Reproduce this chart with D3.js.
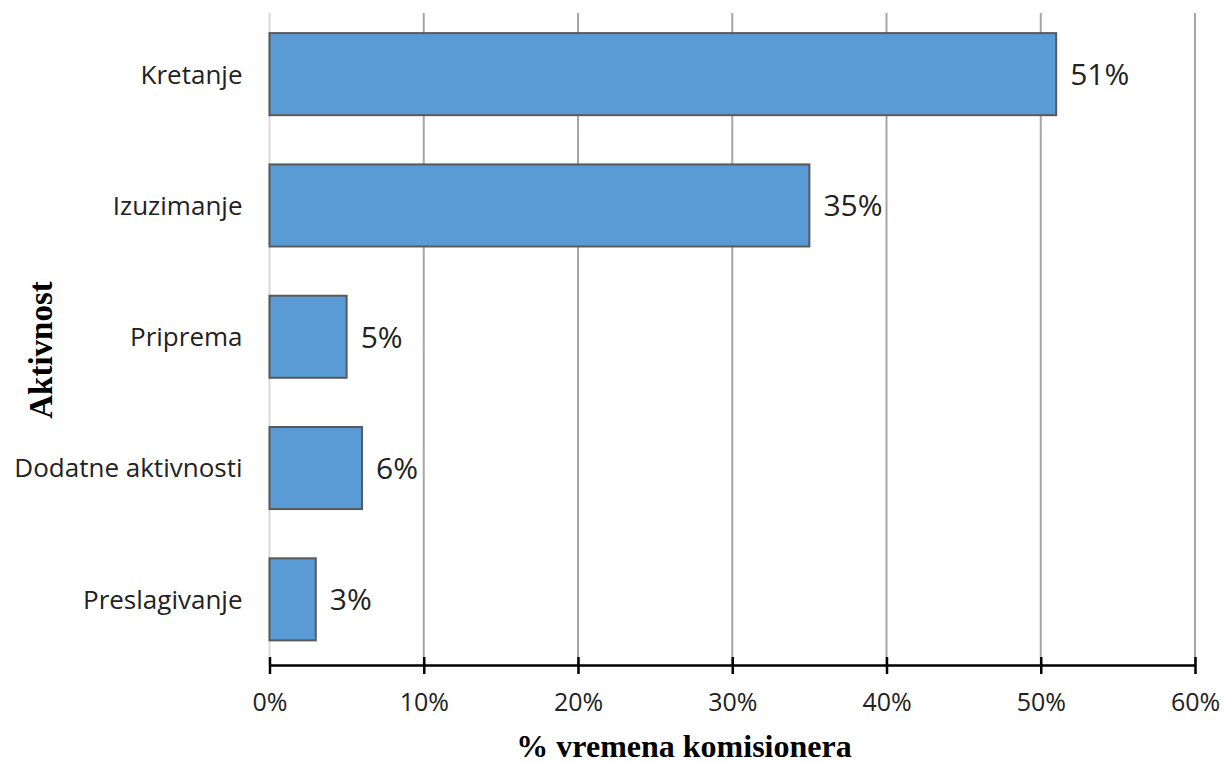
<!DOCTYPE html>
<html>
<head>
<meta charset="utf-8">
<script src="https://cdn.jsdelivr.net/npm/d3@7"></script>
<style>
  body { margin: 0; background: #fff; }
</style>
</head>
<body>
<div class="vis-container"></div>
<script>
// Data
const categories = ['Kretanje', 'Izuzimanje', 'Priprema', 'Dodatne aktivnosti', 'Preslagivanje'];
const values = [0.51, 0.35, 0.05, 0.06, 0.03];
const xTicks = [0, 0.1, 0.2, 0.3, 0.4, 0.5, 0.6];

const data = categories.map((c, i) => ({ name: c, value: values[i] }));

const margin = { top: 8.5, right: 29, bottom: 98, left: 269.5 };
const width = 1224 - margin.left - margin.right;
const height = 763 - margin.top - margin.bottom;
const font = 'Open Sans, Noto Sans, sans-serif';

const svg = d3
  .select('.vis-container')
  .append('svg')
  .attr('width', 1224)
  .attr('height', 763);

const group = svg
  .append('g')
  .attr('transform', `translate(${margin.left},${margin.top})`);

const xScale = d3.scaleLinear().domain([0, 0.6]).range([0, width]);
const yScale = d3
  .scaleBand()
  .domain(categories)
  .range([0, height])
  .paddingInner(0.375)
  .paddingOuter(0.1875);

const fmt = d3.format('.0%');

// gridlines
group
  .append('g')
  .selectAll('line')
  .data(xTicks)
  .join('line')
  .attr('x1', (d) => xScale(d))
  .attr('x2', (d) => xScale(d))
  .attr('y1', 4.5)
  .attr('y2', height)
  .attr('stroke', (d) => (d === 0 ? '#d9d9d9' : '#a6a6a6'))
  .attr('stroke-width', 2);

// bars
group
  .selectAll('rect.bar')
  .data(data)
  .join('rect')
  .attr('class', 'bar')
  .attr('x', xScale(0))
  .attr('y', (d) => yScale(d.name))
  .attr('width', (d) => xScale(d.value) - xScale(0))
  .attr('height', yScale.bandwidth())
  .attr('fill', '#5b9bd5')
  .attr('stroke', '#595959')
  .attr('stroke-width', 2);

// value labels
group
  .selectAll('text.val')
  .data(data)
  .join('text')
  .attr('class', 'val')
  .attr('x', (d) => xScale(d.value) + 14)
  .attr('y', (d) => yScale(d.name) + yScale.bandwidth() / 2)
  .attr('dy', '0.36em')
  .attr('font-family', font)
  .attr('font-size', 30)
  .attr('fill', '#222')
  .text((d) => fmt(d.value));

// x axis
const xAxis = d3
  .axisBottom(xScale)
  .tickValues(xTicks)
  .tickFormat(fmt)
  .tickSizeInner(9)
  .tickSizeOuter(0)
  .tickPadding(19);

group
  .append('g')
  .attr('class', 'x-axis')
  .attr('transform', `translate(0,${height})`)
  .call(xAxis)
  .call((g) => g.select('.domain').attr('stroke', '#000').attr('stroke-width', 2.5))
  .call((g) =>
    g.selectAll('.tick line').attr('y1', -8).attr('stroke', '#000').attr('stroke-width', 2.5)
  )
  .call((g) =>
    g
      .selectAll('.tick text')
      .attr('font-family', font)
      .attr('font-size', 25)
      .attr('fill', '#222')
  );

// y labels
group
  .append('g')
  .selectAll('text')
  .data(categories)
  .join('text')
  .attr('x', -27)
  .attr('y', (d) => yScale(d) + yScale.bandwidth() / 2)
  .attr('dy', '0.36em')
  .attr('text-anchor', 'end')
  .attr('font-family', font)
  .attr('font-size', 26)
  .attr('fill', '#222')
  .text((d) => d);

// axis titles
svg
  .append('text')
  .attr('x', 684)
  .attr('y', 757)
  .attr('text-anchor', 'middle')
  .attr('font-family', 'Liberation Serif, Times New Roman, serif')
  .attr('font-weight', 'bold')
  .attr('font-size', 32)
  .text('% vremena komisionera');

svg
  .append('text')
  .attr('transform', `translate(52,${350}) rotate(-90)`)
  .attr('text-anchor', 'middle')
  .attr('font-family', 'Liberation Serif, Times New Roman, serif')
  .attr('font-weight', 'bold')
  .attr('font-size', 33)
  .text('Aktivnost');
</script>
</body>
</html>
